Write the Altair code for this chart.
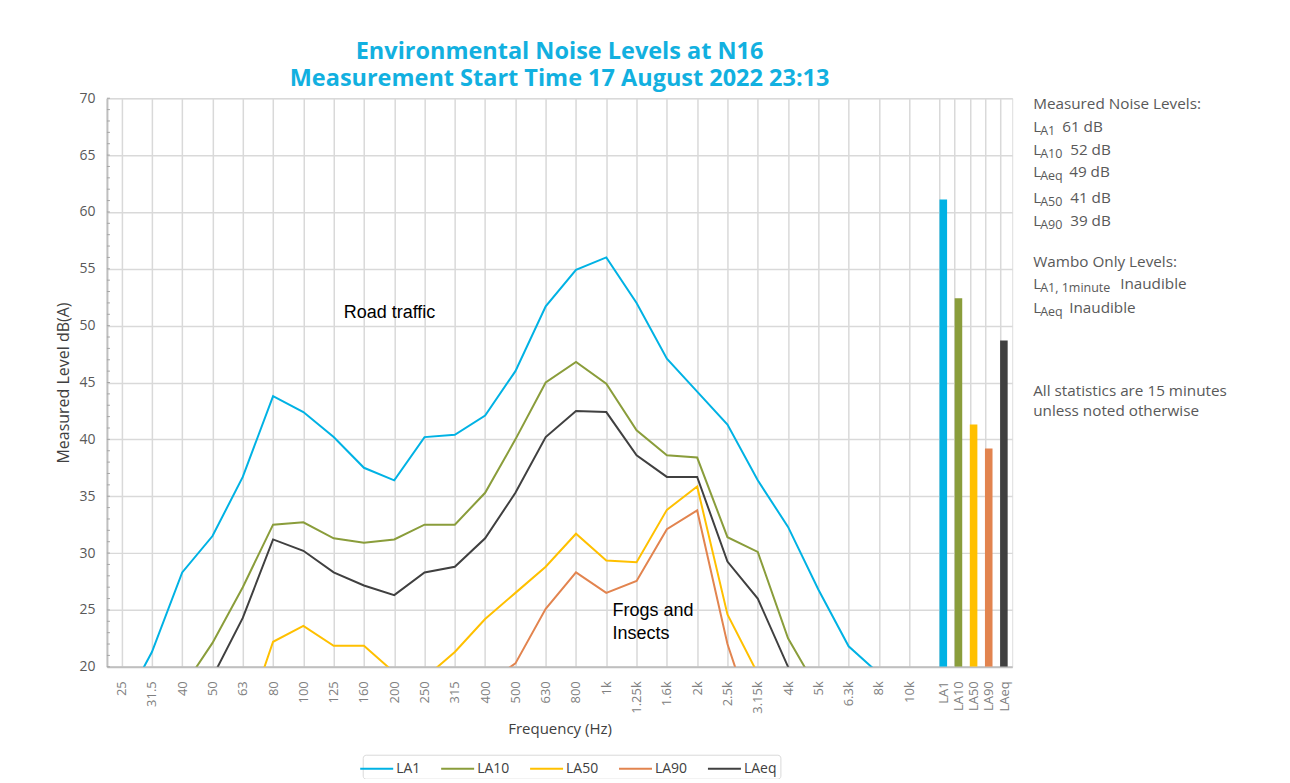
import altair as alt
import pandas as pd

# ---------------- data ----------------
freq_labels = ["25", "31.5", "40", "50", "63", "80", "100", "125", "160", "200",
               "250", "315", "400", "500", "630", "800", "1k", "1.25k", "1.6k",
               "2k", "2.5k", "3.15k", "4k", "5k", "6.3k", "8k", "10k"]
stat_labels = ["LA1", "LA10", "LA50", "LA90", "LAeq"]

la1 = [16.3, 21.3, 28.3, 31.5, 36.7, 43.8, 42.4, 40.2, 37.5, 36.4, 40.2, 40.4, 42.1,
       46.0, 51.7, 54.9, 56.0, 52.0, 47.1, 44.2, 41.3, 36.4, 32.3, 26.8, 21.8, 19.4, 17.0]
la10 = [12.0, 14.5, 18.1, 22.1, 27.0, 32.5, 32.7, 31.3, 30.9, 31.2, 32.5, 32.5, 35.3,
        40.0, 45.0, 46.8, 44.9, 40.8, 38.6, 38.4, 31.4, 30.1, 22.5, 17.9, 14.0, 12.0, 11.0]
la50 = [10.0, 11.0, 12.0, 13.0, 14.4, 22.2, 23.6, 21.85, 21.85, 19.5, 19.0, 21.3, 24.2,
        26.5, 28.8, 31.7, 29.35, 29.2, 33.8, 35.85, 24.6, 19.4, 15.0, 13.0, 11.0, 10.0, 9.0]
la90 = [8.0, 9.0, 10.0, 11.0, 12.0, 13.0, 14.0, 14.0, 15.0, 15.0, 15.0, 16.0, 18.4,
        20.3, 25.1, 28.3, 26.5, 27.55, 32.1, 33.75, 22.0, 14.0, 11.0, 9.0, 8.0, 7.0, 6.0]
laeq = [10.0, 12.0, 15.0, 19.1, 24.3, 31.2, 30.2, 28.3, 27.15, 26.3, 28.3, 28.8, 31.3,
        35.3, 40.2, 42.5, 42.4, 38.6, 36.7, 36.7, 29.25, 26.0, 20.0, 16.0, 13.0, 11.0, 10.0]

stat_values = [61.1, 52.4, 41.3, 39.2, 48.7]
panel_order = ["LA1", "LA10", "LAeq", "LA50", "LA90"]

colors = ["#00B2E4", "#8A9D3B", "#FFC000", "#E2844F", "#404040"]

# ---------------- tables ----------------
band_pos = list(range(len(freq_labels)))
stat_pos = [len(freq_labels) + 0.5 * j for j in range(len(stat_labels))]
tick_pos = band_pos + stat_pos
tick_text = freq_labels + stat_labels

rows = []
for name, vals in zip(stat_labels, [la1, la10, la50, la90, laeq]):
    for p, v in zip(band_pos, vals):
        rows.append({"series": name, "pos": p, "level": v})
lines_df = pd.DataFrame(rows)

bars_df = pd.DataFrame({
    "series": stat_labels,
    "pos": stat_pos,
    "pos_end": [p + 0.25 for p in stat_pos],
    "level": stat_values,
    "fill": colors,
})

minor_df = pd.DataFrame({"v": list(range(20, 71))})

pos_js = "[" + ",".join(str(p) for p in tick_pos) + "]"
lbl_js = "[" + ",".join("'" + t + "'" for t in tick_text) + "]"
label_expr = lbl_js + "[indexof(" + pos_js + ", datum.value)]"

W, H = 906, 569
xscale = alt.Scale(domain=[-0.485, 29.4], nice=False, zero=False)
yscale = alt.Scale(domain=[20, 70], nice=False, zero=False)

GRID = "#d9d9d9"
AXIS = "#bfbfbf"
FONT = "Open Sans"

x_axis = alt.Axis(
    values=tick_pos, labelExpr=label_expr, labelAngle=270, labelAlign="right",
    labelBaseline="middle", labelPadding=14, ticks=False, labelOverlap=False,
    labelFlush=False, labelColor="#808080", labelFontSize=13, labelFont=FONT,
    labelOffset={"condition": {"test": "datum.value >= 27", "value": 4}, "value": 0},
    domainColor=AXIS, domainWidth=2, grid=True, gridColor=GRID, gridWidth=1.5,
    title="Frequency (Hz)", titleFont=FONT, titleFontSize=15, titleFontWeight="normal",
    titleColor="#404040", titlePadding=8,
)
y_axis = alt.Axis(
    values=list(range(20, 71, 5)), ticks=False, labelPadding=12, labelColor="#595959",
    labelFontSize=14, labelFont=FONT, domainColor=AXIS, domainWidth=2, grid=True,
    gridColor=GRID, gridWidth=1.5, title="Measured Level dB(A)", titleFont=FONT,
    titleFontSize=16, titleFontWeight="normal", titleColor="#404040", titlePadding=7,
)

minor = alt.Chart(minor_df).mark_rule(color="#a6a6a6", strokeWidth=1).encode(
    x=alt.value(0), x2=alt.value(3), y=alt.Y("v:Q", scale=yscale, axis=y_axis)
)

lines = alt.Chart(lines_df).mark_line(strokeWidth=2, clip=True).encode(
    x=alt.X("pos:Q", scale=xscale, axis=x_axis),
    y=alt.Y("level:Q", scale=yscale, axis=y_axis),
    color=alt.Color(
        "series:N",
        scale=alt.Scale(domain=stat_labels, range=colors),
        legend=alt.Legend(
            title=None, orient="none", legendX=256, legendY=657, direction="horizontal",
            symbolType="M-1.65,0H1.65", symbolSize=400, symbolStrokeWidth=2,
            labelFontSize=14, labelColor="#404040", labelFont=FONT, labelOffset=8.5,
            columnPadding=16, padding=3, strokeColor="#d9d9d9", cornerRadius=3,
            fillColor="white",
        ),
    ),
    order=alt.Order("pos:Q"),
)

bars = alt.Chart(bars_df).mark_bar(clip=True).encode(
    x=alt.X("pos:Q", scale=xscale, axis=x_axis),
    x2="pos_end:Q",
    y=alt.Y("level:Q", scale=yscale, axis=y_axis),
    y2=alt.datum(20),
    fill=alt.Fill("fill:N", scale=None),
)

dummy = pd.DataFrame({"k": [0]})


def txt(s, x, y, size=15.3, color="#595959", font=FONT, weight="normal"):
    return alt.Chart(dummy).mark_text(
        align="left", baseline="middle", fontSize=size, font=font, fontWeight=weight,
        color=color,
    ).encode(x=alt.value(x), y=alt.value(y), text=alt.value(s))


texts = []
PX = 927
SUB = 12.5
texts.append(txt("Measured Noise Levels:", PX, 6))
row_y = [29, 52, 74, 100, 123]
val_x = {"LA1": 956, "LA10": 964, "LAeq": 963, "LA50": 964, "LA90": 964}
for name, yy in zip(panel_order, row_y):
    v = stat_values[stat_labels.index(name)]
    texts.append(txt("L", PX, yy))
    texts.append(txt(name[1:], PX + 7, yy + 4, size=SUB))
    texts.append(txt(f"{round(v)} dB", val_x[name], yy))
texts.append(txt("Wambo Only Levels:", PX, 164))
texts.append(txt("L", PX, 186))
texts.append(txt("A1, 1minute", PX + 7, 190, size=SUB))
texts.append(txt("Inaudible", 1014, 186))
texts.append(txt("L", PX, 210))
texts.append(txt("Aeq", PX + 7, 214, size=SUB))
texts.append(txt("Inaudible", 963, 210))
texts.append(txt("All statistics are 15 minutes", PX, 293))
texts.append(txt("unless noted otherwise", PX, 313))

texts.append(txt("Road traffic", 237, 215, size=18, color="#000000", font="Liberation Sans"))
texts.append(txt("Frogs and", 506, 513, size=18, color="#000000", font="Liberation Sans"))
texts.append(txt("Insects", 506, 536, size=18, color="#000000", font="Liberation Sans"))

chart = alt.layer(minor, lines, bars, *texts).properties(
    width=W, height=H,
    title=alt.TitleParams(
        ["Environmental Noise Levels at N16", "Measurement Start Time 17 August 2022 23:13"],
        anchor="middle", frame="group", fontSize=23.5, font=FONT, fontWeight="bold",
        color="#12B0E0", offset=1, lineHeight=27,
    ),
    autosize=alt.AutoSizeParams(type="none"),
    padding={"left": 99, "top": 90, "right": 270, "bottom": 112},
).configure_view(stroke="#c8c8c8", strokeWidth=2).configure(background="white")

chart.save("out.html", embed_options={"renderer": "svg", "actions": False})
